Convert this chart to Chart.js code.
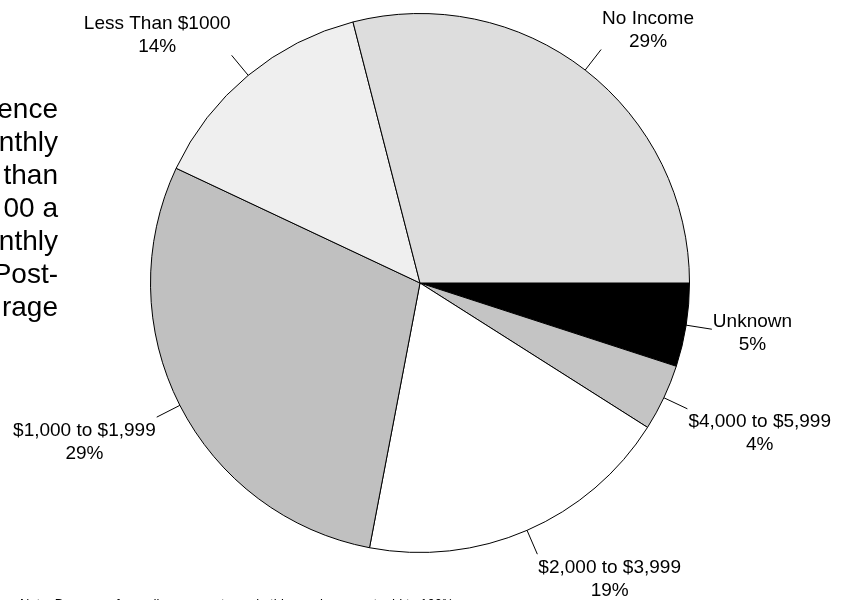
<!DOCTYPE html>
<html><head><meta charset="utf-8">
<script src="https://cdn.jsdelivr.net/npm/chart.js@4/dist/chart.umd.min.js"></script>
<style>html,body{margin:0;padding:0;background:#fff;overflow:hidden}canvas{display:block}</style>
</head><body>
<canvas id="c" width="848" height="600"></canvas>
<script>
const categories = ["Unknown", "$4,000 to $5,999", "$2,000 to $3,999", "$1,000 to $1,999", "Less Than $1000", "No Income"];
const percentages = [5, 4, 19, 29, 14, 29];
const sliceColors = ["#000000", "#c4c4c4", "#ffffff", "#c0c0c0", "#efefef", "#dddddd"];
const sideTextLines = ["ence", "nthly", "than", "00 a", "nthly", "Post-", "rage"];
const footnote = "Note: Because of rounding, percentages in this graph may not add to 100%.";

const FONT = '19px "Liberation Sans", Arial, sans-serif';

const labelPlugin = {
  id: 'sliceLabels',
  afterDatasetsDraw(chart) {
    const ctx = chart.ctx;
    const meta = chart.getDatasetMeta(0);
    ctx.save();
    ctx.font = FONT;
    ctx.fillStyle = '#000';
    ctx.strokeStyle = '#000';
    ctx.lineWidth = 1;
    meta.data.forEach((arc, i) => {
      const p = arc.getProps(['x', 'y', 'startAngle', 'endAngle', 'outerRadius'], true);
      const mid = (p.startAngle + p.endAngle) / 2;
      const c = Math.cos(mid), s = Math.sin(mid);
      const r0 = p.outerRadius, r1 = p.outerRadius + 26;
      const x0 = p.x + c * r0, y0 = p.y + s * r0;
      const x1 = p.x + c * r1, y1 = p.y + s * r1;
      ctx.beginPath();
      ctx.moveTo(x0, y0);
      ctx.lineTo(x1, y1);
      ctx.stroke();
      const lines = [categories[i], percentages[i] + '%'];
      const w = Math.max(...lines.map(l => ctx.measureText(l).width));
      const capH = 13.6, lh = 23;
      const h = capH + lh;
      let cy;
      if (Math.abs(s) < 0.3) cy = y1 + s * 15;
      else if (s < 0) cy = y1 - 3 - h / 2;
      else cy = y1 + 5 + h / 2;
      const cx = c >= 0 ? x1 + 1 + w / 2 : x1 - 1 - w / 2;
      const base1 = cy - h / 2 + capH;
      ctx.textAlign = 'center';
      ctx.textBaseline = 'alphabetic';
      lines.forEach((l, k) => ctx.fillText(l, cx, base1 + k * lh));
    });
    ctx.restore();
  },
  afterDraw(chart) {
    const ctx = chart.ctx;
    ctx.save();
    ctx.fillStyle = '#000';
    ctx.font = '28px "Liberation Sans", Arial, sans-serif';
    ctx.textAlign = 'right';
    ctx.textBaseline = 'alphabetic';
    sideTextLines.forEach((l, k) => ctx.fillText(l, 58, 118 + k * 33));
    ctx.font = '13px "Liberation Sans", Arial, sans-serif';
    ctx.textAlign = 'left';
    ctx.fillText(footnote, 20, 608);
    ctx.restore();
  }
};

new Chart(document.getElementById('c'), {
  type: 'pie',
  data: {
    labels: categories,
    datasets: [{
      data: percentages,
      backgroundColor: sliceColors,
      borderColor: '#000000',
      borderWidth: 1,
      hoverOffset: 0,
      offset: 0
    }]
  },
  options: {
    responsive: false,
    animation: false,
    events: [],
    rotation: 90,
    layout: { padding: { left: 150, right: 158, top: 13, bottom: 47 } },
    plugins: { legend: { display: false }, tooltip: { enabled: false }, title: { display: false } }
  },
  plugins: [labelPlugin]
});
</script>
</body></html>
